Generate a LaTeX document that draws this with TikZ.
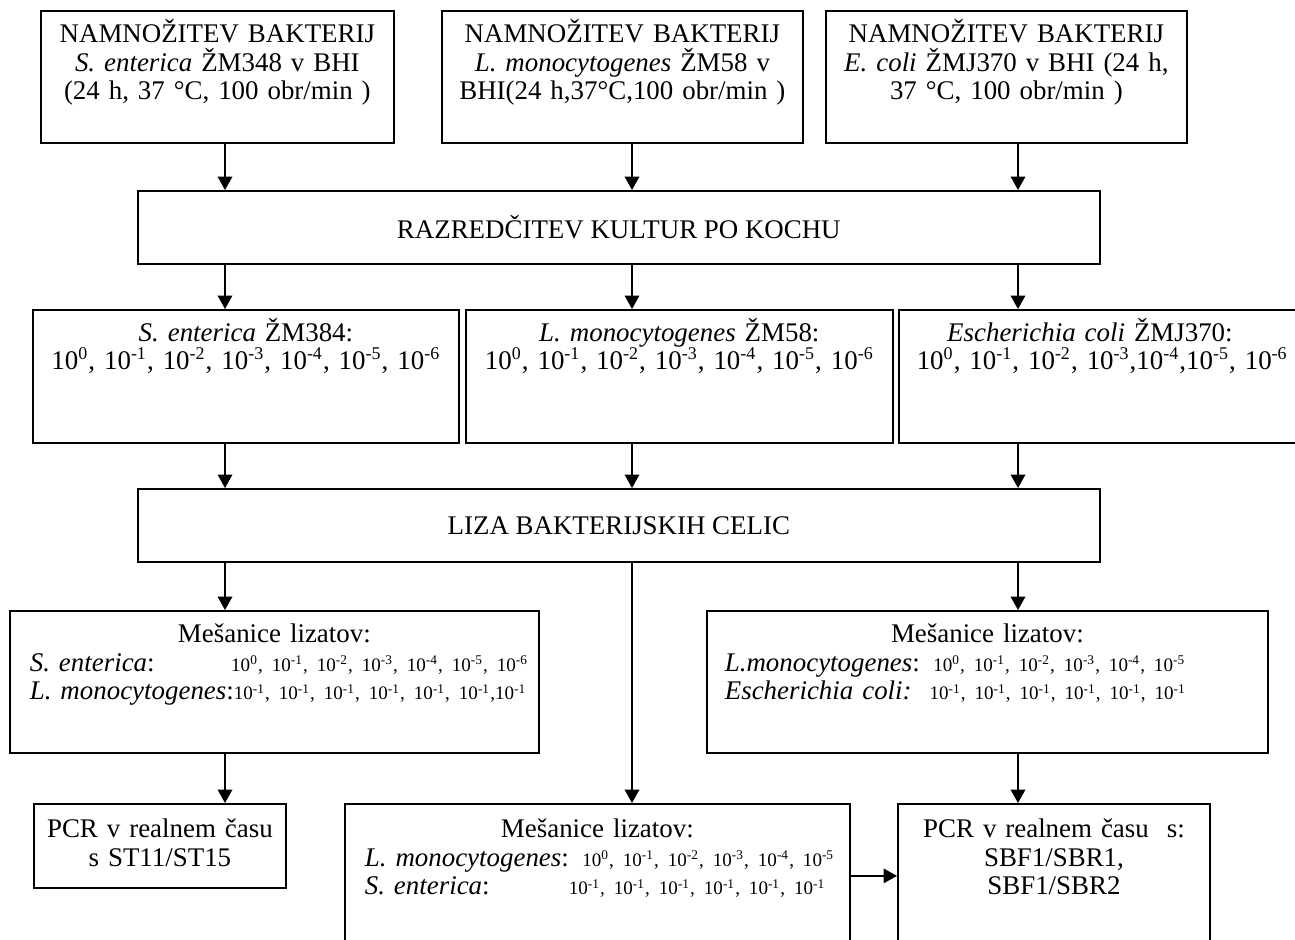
\documentclass[tikz,border=0pt]{standalone}
\usepackage{fontspec}
\setmainfont{Liberation Serif}
\usetikzlibrary{arrows.meta}
\newcommand{\dil}[1]{10\textsuperscript{#1}}
\newcommand{\numsz}{\fontsize{8.5}{12.6}\selectfont}

\begin{document}
\begin{tikzpicture}[
  x=0.446pt,y=-0.446pt,
  every node/.style={font=\fontsize{12}{12.6}\selectfont},
  box/.style={draw,line width=0.8pt,inner sep=0pt,align=center,anchor=north west},
  grow/.style={box,text width=#1,text height=14.3pt,text depth=44.6pt},
  stage/.style={box,minimum width=429pt,minimum height=32.5pt},
  dilbox/.style={box,text width=#1,text height=13.9pt,text depth=45.4pt},
  mixbox/.style={box,text width=#1,text height=14.3pt,text depth=49pt},
  pcrbox/.style 2 args={box,text width=#1,text height=15.2pt,text depth=#2},
  arrow/.style={-{Triangle[length=6pt,width=6.5pt]},line width=0.8pt}
]
\useasboundingbox (0,0) rectangle (1295,939);
\clip (0,0) rectangle (1295,939);
\coordinate (colL) at (225,0);
\coordinate (colM) at (632,0);
\coordinate (colR) at (1018,0);

% namnozitev
\node[grow=157.4pt] (growSE) at (40,10) {NAMNOŽITEV BAKTERIJ\\\textit{S. enterica} ŽM348 v BHI\\(24 h, 37 °C, 100 obr/min )};
\node[grow=161pt] (growLM) at (441,10) {NAMNOŽITEV BAKTERIJ\\\textit{L. monocytogenes} ŽM58 v\\BHI(24 h,37°C,100 obr/min )};
\node[grow=161pt] (growEC) at (825,10) {NAMNOŽITEV BAKTERIJ\\\textit{E. coli} ŽMJ370 v BHI (24 h,\\37 °C, 100 obr/min )};

\node[stage] (koch) at (137,190) {RAZREDČITEV KULTUR PO KOCHU};

% razredcitve
\node[dilbox=190pt] (dilSE) at (32,309) {\textit{S. enterica} ŽM384:\\\dil{0}, \dil{-1}, \dil{-2}, \dil{-3}, \dil{-4}, \dil{-5}, \dil{-6}};
\node[dilbox=190.4pt] (dilLM) at (465,309) {\textit{L. monocytogenes} ŽM58:\\\dil{0}, \dil{-1}, \dil{-2}, \dil{-3}, \dil{-4}, \dil{-5}, \dil{-6}};
\node[dilbox=190.4pt] (dilEC) at (898,309) {\hspace*{-20pt}\textit{Escherichia coli} ŽMJ370:\\\hspace*{-9pt}\dil{0}, \dil{-1}, \dil{-2}, \dil{-3},\dil{-4},\dil{-5}, \dil{-6}};

\node[stage] (liza) at (137,488) {LIZA BAKTERIJSKIH CELIC};

% mesanice
\node[mixbox=235.9pt] (mixSL) at (9,610) {Mešanice lizatov:\\
  \makebox[235.9pt][l]{\hspace{8.9pt}\makebox[89.8pt][l]{\textit{S. enterica}:}{\numsz\dil{0}, \dil{-1}, \dil{-2}, \dil{-3}, \dil{-4}, \dil{-5}, \dil{-6}}}\\
  \makebox[235.9pt][l]{\hspace{8.9pt}\textit{L. monocytogenes}:{\numsz\dil{-1}, \dil{-1}, \dil{-1}, \dil{-1}, \dil{-1}, \dil{-1},\dil{-1}}}};
\node[mixbox=250.2pt] (mixLE) at (706,610) {Mešanice lizatov:\\
  \makebox[250.2pt][l]{\hspace{8pt}\textit{L.monocytogenes}: {\numsz\dil{0}, \dil{-1}, \dil{-2}, \dil{-3}, \dil{-4}, \dil{-5}}}\\
  \makebox[250.2pt][l]{\hspace{8pt}\textit{Escherichia coli:}\ \ {\numsz\dil{-1}, \dil{-1}, \dil{-1}, \dil{-1}, \dil{-1}, \dil{-1}}}};

% pcr
\node[pcrbox={112.4pt}{22.3pt}] (pcrST) at (33,803) {PCR v realnem času\\s ST11/ST15};
\node[pcrbox={225.2pt}{49pt}] (mixLS) at (344,803) {Mešanice lizatov:\\
  \makebox[225.2pt][l]{\hspace{8.9pt}\textit{L. monocytogenes}: {\numsz\dil{0}, \dil{-1}, \dil{-2}, \dil{-3}, \dil{-4}, \dil{-5}}}\\
  \makebox[225.2pt][l]{\hspace{8.9pt}\makebox[91pt][l]{\textit{S. enterica}:}{\numsz\dil{-1}, \dil{-1}, \dil{-1}, \dil{-1}, \dil{-1}, \dil{-1}}}};
\node[pcrbox={139.2pt}{49pt}] (pcrSB) at (897,803) {PCR v realnem času\ \ s:\\SBF1/SBR1,\\SBF1/SBR2};

\draw[arrow] (growSE.south -| colL) -- (koch.north -| colL);
\draw[arrow] (growLM.south -| colM) -- (koch.north -| colM);
\draw[arrow] (growEC.south -| colR) -- (koch.north -| colR);
\draw[arrow] (koch.south -| colL) -- (dilSE.north -| colL);
\draw[arrow] (koch.south -| colM) -- (dilLM.north -| colM);
\draw[arrow] (koch.south -| colR) -- (dilEC.north -| colR);
\draw[arrow] (dilSE.south -| colL) -- (liza.north -| colL);
\draw[arrow] (dilLM.south -| colM) -- (liza.north -| colM);
\draw[arrow] (dilEC.south -| colR) -- (liza.north -| colR);
\draw[arrow] (liza.south -| colL) -- (mixSL.north -| colL);
\draw[arrow] (liza.south -| colR) -- (mixLE.north -| colR);
\draw[arrow] (liza.south -| colM) -- (mixLS.north -| colM);
\draw[arrow] (mixSL.south -| colL) -- (pcrST.north -| colL);
\draw[arrow] (mixLE.south -| colR) -- (pcrSB.north -| colR);
\draw[arrow] (mixLS.east) -- (mixLS.east -| pcrSB.west);
\end{tikzpicture}
\end{document}
